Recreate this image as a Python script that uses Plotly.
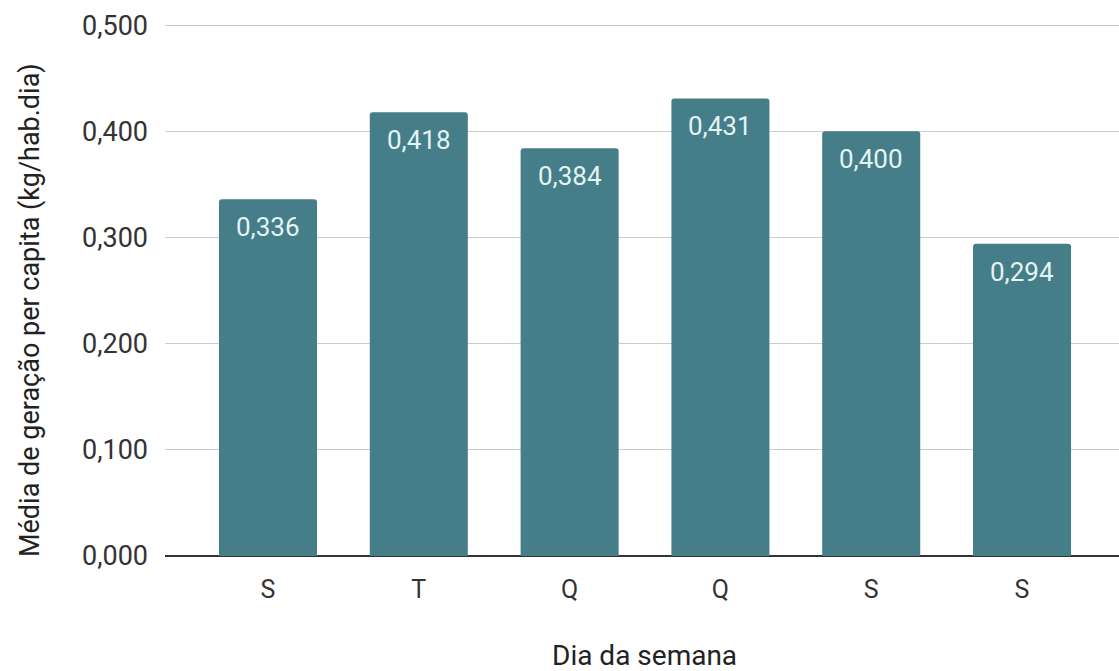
import plotly.graph_objects as go

# Média diária de geração de resíduos por dia da semana
dias = ["S", "T", "Q", "Q", "S", "S"]
media = [0.336, 0.418, 0.384, 0.431, 0.400, 0.294]
y_ticks = [0.0, 0.1, 0.2, 0.3, 0.4, 0.5]

posicoes = list(range(len(dias)))
cor_barra = "#457D88"
fonte = "Roboto, Arial, sans-serif"

fig = go.Figure(
    go.Bar(
        x=posicoes,
        y=media,
        width=0.65,
        marker=dict(color=cor_barra, cornerradius=3, line=dict(width=0)),
        hoverinfo="skip",
    )
)

# Rótulos de valor dentro do topo de cada barra
for xi, v in zip(posicoes, media):
    fig.add_annotation(
        x=xi, y=v, xref="x", yref="y",
        text=f"{v:.3f}".replace(".", ","),
        showarrow=False, yshift=-28,
        font=dict(family=fonte, size=26, color="#E2F4F4"),
    )

# Títulos dos eixos
fig.add_annotation(
    text="Média de geração per capita (kg/hab.dia)",
    xref="paper", yref="paper", x=-0.1415, y=0.4615,
    xanchor="center", yanchor="middle", textangle=-90,
    showarrow=False,
    font=dict(family=fonte, size=27, color="#222222"),
)
fig.add_annotation(
    text="Dia da semana",
    xref="paper", yref="paper", x=0.503, y=-0.186,
    xanchor="center", yanchor="middle",
    showarrow=False,
    font=dict(family=fonte, size=28, color="#222222"),
)

fig.update_layout(
    width=1119, height=671,
    margin=dict(l=165, r=0, t=23, b=115),
    paper_bgcolor="white", plot_bgcolor="white",
    separators=",.",
    showlegend=False,
    font=dict(family=fonte, color="#333333"),
    xaxis=dict(
        tickmode="array", tickvals=posicoes, ticktext=dias,
        range=[-0.683, 5.643],
        showgrid=False, zeroline=False, showline=False,
        ticks="", ticklabelstandoff=16,
        tickfont=dict(size=25, color="#333333"),
    ),
    yaxis=dict(
        range=[0, 0.502], tickvals=y_ticks, tickformat=".3f",
        showgrid=True, gridcolor="#CCCCCC", gridwidth=1,
        zeroline=True, zerolinecolor="#333333", zerolinewidth=1.5,
        showline=False, ticks="", ticklabelstandoff=16,
        tickfont=dict(size=27, color="#333333"),
    ),
)

fig.write_html("out.html")
